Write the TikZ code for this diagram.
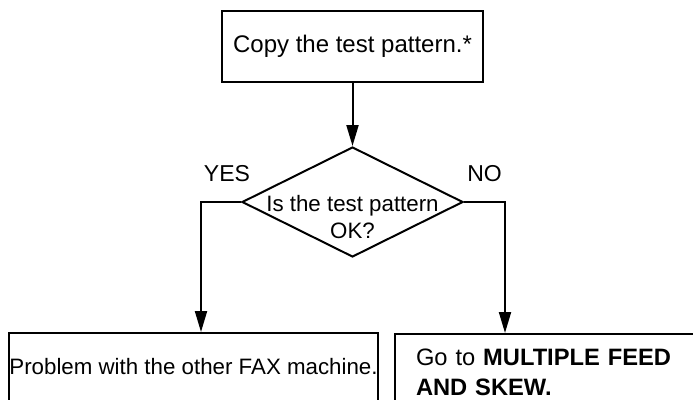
\documentclass[tikz,border=0pt]{standalone}
\usepackage{fontspec}
\setmainfont{Liberation Sans}
\usetikzlibrary{arrows.meta,shapes.geometric}
\tikzset{
  fc line/.style={draw=black, line width=2pt},
  fc box/.style={fc line, rectangle, inner sep=0pt},
  fc decision/.style={fc line, diamond, inner sep=0pt, minimum width=221pt, minimum height=110pt},
  fc arrow/.style={fc line, -{Triangle[length=21pt, width=12pt]}},
  fc text/.style={font=\fontsize{23}{30}\selectfont, text=black, inner sep=0pt},
}

\begin{document}
\begin{tikzpicture}[x=1pt, y=-1pt]
  \useasboundingbox (0,0) rectangle (693,399);

  % Top: first step
  \node[fc box, minimum width=261pt, minimum height=71pt, font=\fontsize{24}{28}\selectfont]
    (copy) at (352.5,46.5) {Copy the test pattern.*};

  % Middle: the question and its two answers
  \node[fc decision] (check) at (352.5,202) {};
  \node[fc text, font=\fontsize{22.3}{26.5}\selectfont, align=center]
    (checktext) at (352.5,217) {Is the test pattern\\OK?};
  \node[fc text] (yes) at (227,174) {YES};
  \node[fc text] (no) at (484.5,174) {NO};

  % Bottom: the two outcomes
  \node[fc box, minimum width=369pt, minimum height=68pt, font=\fontsize{22.3}{28}\selectfont]
    (problem) at (193.5,367) {Problem with the other FAX machine.};
  \node[fc box, anchor=north west, minimum height=77pt, text width=295pt, inner xsep=21pt,
        align=left, font=\fontsize{23.7}{30}\selectfont]
    (goto) at (394,333) {Go to \textbf{MULTIPLE FEED}\\\textbf{AND SKEW.}};

  % Connectors
  \draw[fc arrow] (copy.south) -- (check.north);
  \draw[fc arrow] (check.west) -| ([xshift=7.5pt]problem.north);
  \draw[fc arrow] (check.east) -| ([xshift=111pt]goto.north west);
\end{tikzpicture}
\end{document}
